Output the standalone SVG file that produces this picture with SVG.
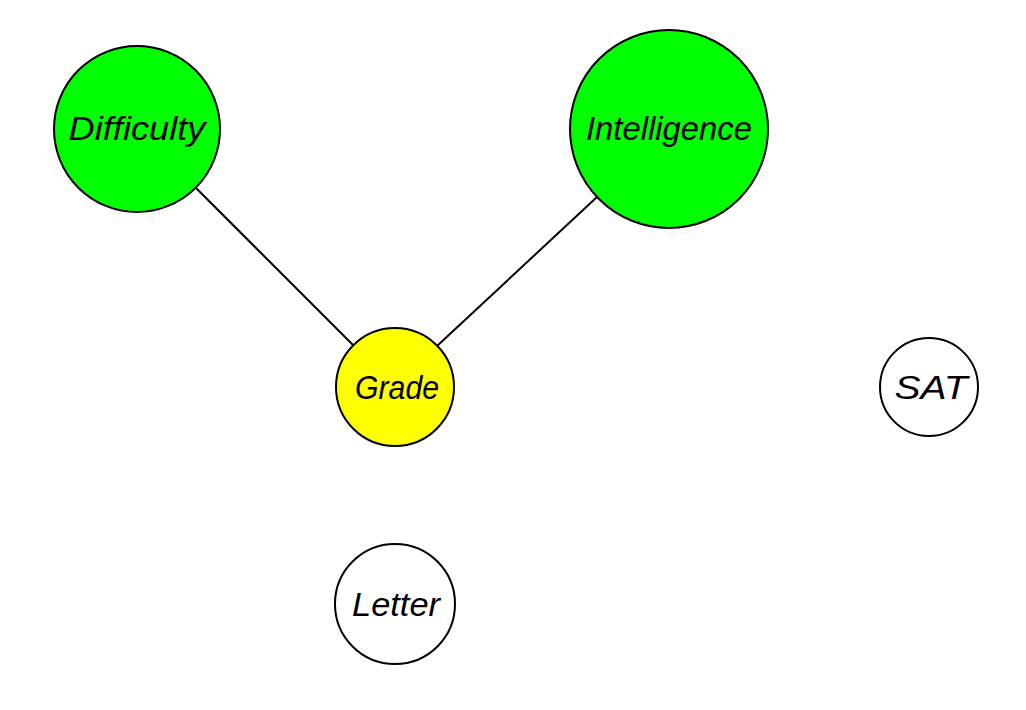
<svg xmlns="http://www.w3.org/2000/svg" width="1026" height="710" viewBox="0 0 1026 710">
<style>
.n{stroke:#000;stroke-width:2}
.t{font-family:"Liberation Sans",Arial,sans-serif;font-style:italic;font-size:33px;text-anchor:middle;fill:#000}
.e{stroke:#000;stroke-width:2;fill:none}
</style>
<rect width="1026" height="710" fill="#fff"/>
<g id="edges">
<line class="e" x1="196" y1="188" x2="353" y2="345"/>
<line class="e" x1="597" y1="197" x2="437" y2="346"/>
</g>
<g id="Difficulty"><circle class="n" cx="137" cy="129" r="83" fill="#00ff00"/><text class="t" x="137" y="140" textLength="137" lengthAdjust="spacingAndGlyphs">Difficulty</text></g>
<g id="Intelligence"><circle class="n" cx="669" cy="129" r="99" fill="#00ff00"/><text class="t" x="669" y="140" textLength="166" lengthAdjust="spacingAndGlyphs">Intelligence</text></g>
<g id="Grade"><circle class="n" cx="395" cy="387" r="59" fill="#ffff00"/><text class="t" x="397" y="399" textLength="84" lengthAdjust="spacingAndGlyphs">Grade</text></g>
<g id="SAT"><circle class="n" cx="929" cy="387" r="49" fill="#fff"/><text class="t" x="931" y="399" textLength="73" lengthAdjust="spacingAndGlyphs">SAT</text></g>
<g id="Letter"><circle class="n" cx="395" cy="604" r="60" fill="#fff"/><text class="t" x="396" y="616" textLength="88" lengthAdjust="spacingAndGlyphs">Letter</text></g>
</svg>
